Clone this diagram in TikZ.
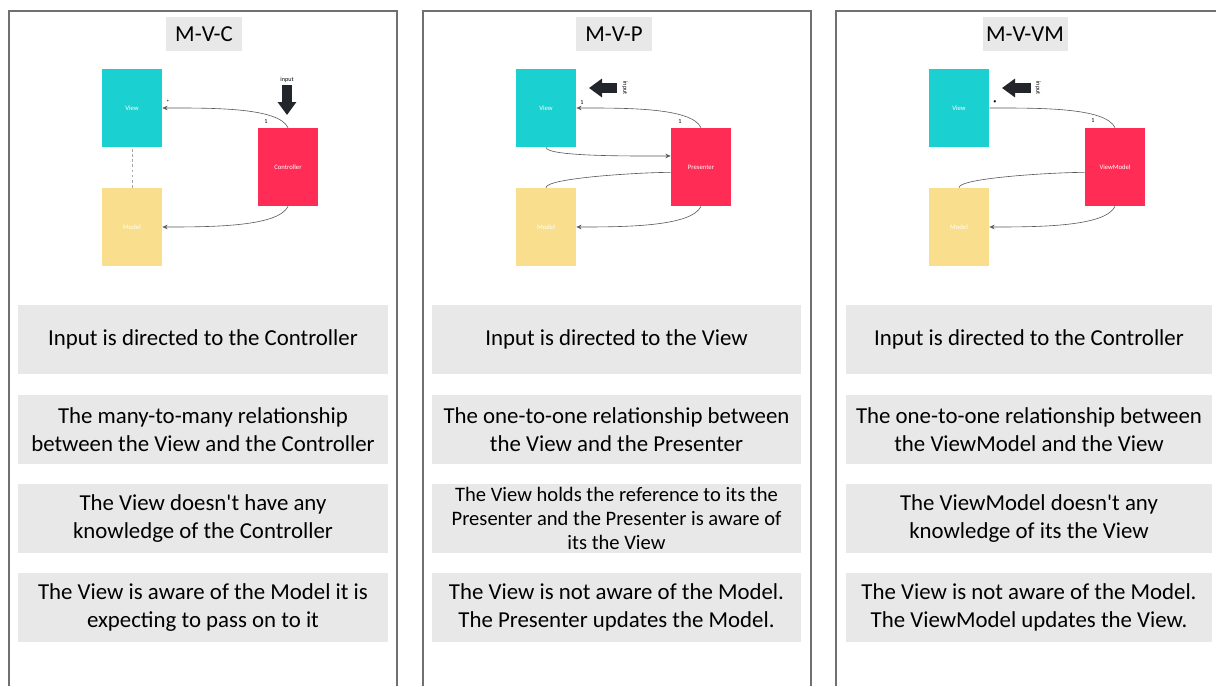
\documentclass[tikz,border=0pt]{standalone}
\usepackage{fontspec}
\setmainfont{Carlito}[Ligatures=TeXOff]
\usetikzlibrary{arrows.meta}
\definecolor{viewcol}{HTML}{1BD0D0}
\definecolor{modelcol}{HTML}{F9DE8E}
\definecolor{ctrlcol}{HTML}{FF2C56}
\definecolor{boxgray}{HTML}{E8E8E8}
\definecolor{framegray}{HTML}{707070}
\definecolor{arrowdark}{HTML}{22262B}

\begin{document}
\begin{tikzpicture}[x=0.02cm, y=-0.02cm,
	panel/.style={draw=framegray, line width=0.6pt},
	title/.style={fill=boxgray, minimum width=1.52cm, minimum height=0.68cm, inner sep=0pt, font=\fontsize{13}{15}\selectfont},
	note/.style={fill=boxgray, minimum width=7.4cm, minimum height=1.38cm, inner sep=0pt, align=center, font=\fontsize{13}{16}\selectfont},
	part/.style={minimum width=1.2cm, minimum height=1.56cm, inner sep=0pt, text=white, font=\fontsize{3.8}{4}\selectfont},
	link/.style={draw=black!65, line width=0.35pt},
	headed/.style={-{Stealth[length=3pt, width=2.6pt]}},
	relnum/.style={inner sep=0pt, font=\fontsize{3.5}{4}\selectfont},
	bigarrow/.style={draw=arrowdark, line width=0.2cm, -{Triangle[width=0.36cm, length=0.26cm]}}
	]
	\useasboundingbox (0,0) rectangle (1216,686);
	% Panels
	\draw[panel] (9,686) -- (9,11) -- (397,11) -- (397,686);
	\draw[panel] (423,686) -- (423,11) -- (811,11) -- (811,686);
	\draw[panel] (836,686) -- (836,11) -- (1216,11);
	% Titles
	\node[title] (mvc) at (204,34) {M-V-C};
	\node[title] (mvp) at (614,34) {M-V-P};
	\node[title, minimum width=1.7cm] (mvvm) at (1025,34) {M-V-VM};

	% M-V-C
	\node[part, fill=viewcol] (cview) at (132,108) {View};
	\node[part, fill=modelcol] (cmodel) at (132,227) {Model};
	\node[part, fill=ctrlcol] (cctrl) at (288,167) {Controller};
	\draw[link, headed] (cctrl.north) to[out=115, in=0, out looseness=0.45] (cview.east);
	\draw[link, headed] (cctrl.south) to[out=-115, in=0, out looseness=0.45] (cmodel.east);
	\draw[link, draw=gray!70, dash pattern=on 1.6pt off 1.3pt] (cmodel.north) -- (cview.south);
	\node[relnum] (cmany) at (168,102) {*};
	\node[relnum] (cone) at (266,122) {1};
	\node[relnum] (cinput) at (287,80) {input};
	\coordinate (cinstart) at (287,85);
	\coordinate (cinend) at (287,115);
	\draw[bigarrow] (cinstart) -- (cinend);

	% M-V-P
	\node[part, fill=viewcol] (pview) at (546,108) {View};
	\node[part, fill=modelcol] (pmodel) at (546,227) {Model};
	\node[part, fill=ctrlcol] (ppres) at (701,167) {Presenter};
	\draw[link, headed] (ppres.north) to[out=115, in=0, out looseness=0.45] (pview.east);
	\draw[link, headed] (pview.south) to[out=-90, in=180, out looseness=0.2, in looseness=0.6] (ppres.160);
	\draw[link] (ppres.190) to[out=180, in=90, out looseness=0.6, in looseness=0.2] (pmodel.north);
	\draw[link, headed] (ppres.south) to[out=-115, in=0, out looseness=0.45] (pmodel.east);
	\node[relnum] (pone) at (582,103) {1};
	\node[relnum] (ptwo) at (680,122) {1};
	\node[relnum, rotate=-90] (pinput) at (625,88) {input};
	\coordinate (pinstart) at (617,88);
	\coordinate (pinend) at (589,88);
	\draw[bigarrow] (pinstart) -- (pinend);

	% M-V-VM
	\node[part, fill=viewcol] (vview) at (959,108) {View};
	\node[part, fill=modelcol] (vmodel) at (959,227) {Model};
	\node[part, fill=ctrlcol] (vvm) at (1115,167) {ViewModel};
	\draw[link] (vvm.north) to[out=115, in=0, out looseness=0.45] (vview.east);
	\draw[link] (vvm.190) to[out=180, in=90, out looseness=0.6, in looseness=0.2] (vmodel.north);
	\draw[link, headed] (vvm.south) to[out=-115, in=0, out looseness=0.45] (vmodel.east);
	\node[relnum] (vone) at (995,102) {\textbullet};
	\node[relnum] (vtwo) at (1093,121) {1};
	\node[relnum, rotate=-90] (vinput) at (1038,88) {input};
	\coordinate (vinstart) at (1031,88);
	\coordinate (vinend) at (1002,88);
	\draw[bigarrow] (vinstart) -- (vinend);

	% Notes, M-V-C
	\node[note] (cnote1) at (203,339.5) {Input is directed to the Controller};
	\node[note] (cnote2) at (203,429.5) {The many-to-many relationship\\between the View and the Controller};
	\node[note] (cnote3) at (203,518.5) {The View doesn't have any\\knowledge of the Controller};
	\node[note] (cnote4) at (203,607.5) {The View is aware of the Model it is\\expecting to pass on to it};
	% Notes, M-V-P
	\node[note] (pnote1) at (616.5,339.5) {Input is directed to the View};
	\node[note] (pnote2) at (616.5,429.5) {The one-to-one relationship between\\the View and the Presenter};
	\node[note, font=\fontsize{11.7}{13.8}\selectfont] (pnote3) at (616.5,518.5) {The View holds the reference to its the\\Presenter and the Presenter is aware of\\its the View};
	\node[note] (pnote4) at (616.5,607.5) {The View is not aware of the Model.\\The Presenter updates the Model.};
	% Notes, M-V-VM
	\node[note, minimum width=7.32cm] (vnote1) at (1029,339.5) {Input is directed to the Controller};
	\node[note, minimum width=7.32cm] (vnote2) at (1029,429.5) {The one-to-one relationship between\\the ViewModel and the View};
	\node[note, minimum width=7.32cm] (vnote3) at (1029,518.5) {The ViewModel doesn't any\\knowledge of its the View};
	\node[note, minimum width=7.32cm] (vnote4) at (1029,607.5) {The View is not aware of the Model.\\The ViewModel updates the View.};
\end{tikzpicture}
\end{document}
